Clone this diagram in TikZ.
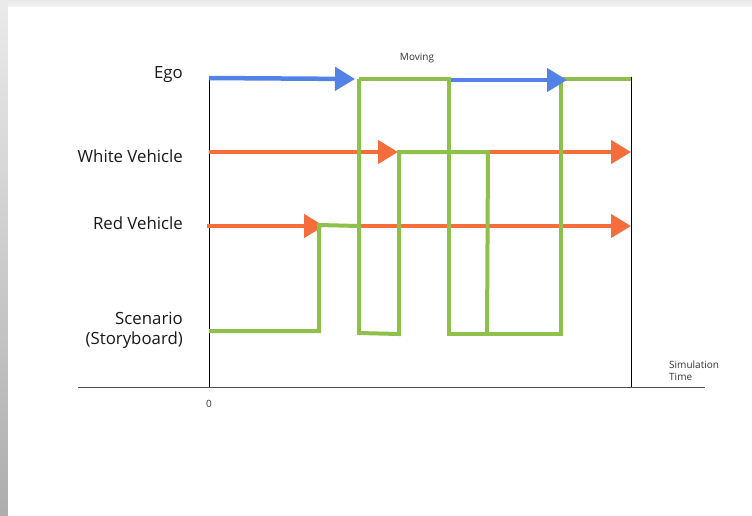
\documentclass[tikz,border=0pt]{standalone}
\usepackage{fontspec}
\setmainfont{Open Sans}
\usetikzlibrary{arrows.meta}
\definecolor{egoblue}{HTML}{5282E6}
\definecolor{vehorange}{HTML}{F46D3B}
\definecolor{storygreen}{HTML}{8EC04B}
\tikzset{
  axisline/.style={line width=1pt, black},
  baseline/.style={line width=1pt, black!70},
  egoarrow/.style={line width=4.5pt, egoblue, -{Triangle[length=20pt,width=23pt]}},
  vehicle/.style={line width=4.5pt, vehorange, -{Triangle[length=20pt,width=23pt]}},
  story/.style={line width=4pt, storygreen, line join=miter},
  rowlabel/.style={font=\fontsize{16.8}{20}\selectfont, anchor=east, align=right, inner sep=0pt, text=black!90},
  smalllabel/.style={font=\fontsize{10}{12}\selectfont, inner sep=0pt, text=black!80}
}
\begin{document}
\begin{tikzpicture}[x=1pt,y=-1pt]
\useasboundingbox (0,0) rectangle (752,515);
% slide background with shadow
\fill[black!6] (0,0) rectangle (752,515);
\shade[top color=black!8, bottom color=black!32] (0,0) rectangle (8,515);
\shade[top color=black!9, bottom color=black!4] (8,0) rectangle (752,7);
\fill[white] (8,7) rectangle (752,515);

% axes
\coordinate (o) at (209,387);
\coordinate (otop) at (209,77);
\coordinate (e) at (631,387);
\coordinate (etop) at (631,77);
\coordinate (bl) at (78,387);
\coordinate (br) at (705,387);
\draw[axisline] (o) -- (otop);
\draw[axisline] (e) -- (etop);
\draw[baseline] (bl) -- (br);

% labels
\node[rowlabel] (ego) at (183,75) {Ego};
\node[rowlabel] (white) at (183,156) {White Vehicle};
\node[rowlabel] (red) at (183,223) {Red Vehicle};
\node[rowlabel] (scen) at (183,330) {Scenario\\(Storyboard)};
\node[smalllabel] (zero) at (209,404) {0};
\node[smalllabel] (moving) at (417,58) {Moving};
\node[smalllabel, anchor=west, align=left] (simtime) at (669,371) {Simulation\\Time};

% vehicle arrows
\coordinate (w0) at (209,152);
\coordinate (w1) at (398,152);
\coordinate (w2) at (489,152);
\coordinate (w3) at (631,152);
\coordinate (r0) at (207,226);
\coordinate (r1) at (324,226);
\coordinate (r2) at (360,226);
\coordinate (r3) at (631,226);
\draw[vehicle] (w0) -- (w1);
\draw[vehicle] (w2) -- (w3);
\draw[vehicle] (r0) -- (r1);
\draw[vehicle] (r2) -- (r3);

% storyboard green line
\coordinate (g0) at (209,331);
\coordinate (g1) at (319,331);
\coordinate (g2) at (319,225);
\coordinate (g3) at (359,226);
\coordinate (g4) at (359,79);
\coordinate (g5) at (359,333);
\coordinate (g6) at (399,334);
\coordinate (g7) at (399,152);
\coordinate (g8) at (488,152);
\coordinate (g9) at (487,334);
\coordinate (h1) at (449,79);
\coordinate (h2) at (449,334);
\coordinate (h3) at (561,334);
\coordinate (h4) at (561,79);
\coordinate (h5) at (631,79);
\draw[story] (g0) -- (g1) -- (g2) -- (g3);
\draw[story] (g4) -- (g5) -- (g6) -- (g7) -- (g8) -- (g9);
\draw[story] (g4) -- (h1) -- (h2) -- (h3) -- (h4) -- (h5);

% ego arrows
\coordinate (b0) at (209,78);
\coordinate (b1) at (355,79);
\coordinate (b2) at (451,80);
\coordinate (b3) at (567,80);
\draw[egoarrow] (b0) -- (b1);
\draw[egoarrow] (b2) -- (b3);
\end{tikzpicture}
\end{document}
